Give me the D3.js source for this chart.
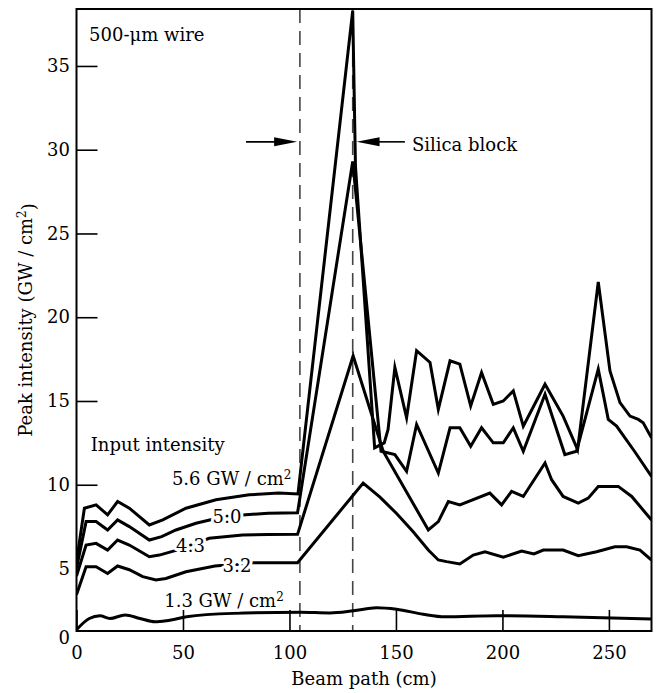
<!DOCTYPE html>
<html>
<head>
<meta charset="utf-8">
<script src="https://cdn.jsdelivr.net/npm/d3@7"></script>
<style>
  html, body { margin: 0; padding: 0; background: #fff; }
  svg { display: block; }
  text { font-family: "DejaVu Serif", serif; fill: #000; }
</style>
</head>
<body>
<svg id="chart" width="658" height="693"></svg>
<script>
// ---------- data ----------
const xTicks = [0, 50, 100, 150, 200, 250];
const yTicks = [0, 5, 10, 15, 20, 25, 30, 35];
const blockEdges = [104.9, 129.7];

const s56 = [[0,5.4],[3.7,8.6],[9.2,8.8],[14.6,8.2],[19.3,9.0],[24.8,8.6],[34.2,7.6],[40.5,7.9],[51.4,8.6],[65.5,9.1],[81.1,9.4],[95,9.5],[104,9.45],[129.7,38.3],[131,29.0],[140,12.2],[144.5,12.5],[146.3,13.3],[149.5,17.0],[155,14.0],[159.7,18.0],[166,17.3],[169.9,14.5],[175.4,17.4],[180,17.2],[185.1,14.7],[190.2,16.7],[195.7,14.8],[200.4,15.0],[205.1,15.6],[209.8,13.5],[220,16.0],[228.5,14.1],[235.3,12.1],[245,22.1],[250.5,16.8],[255.2,14.9],[259.9,14.1],[263.8,13.9],[266.1,13.7],[270,12.8]];
const s50 = [[0,5.0],[4.5,7.8],[9.2,7.8],[14.6,7.3],[19.3,7.9],[24.8,7.5],[34.2,6.7],[40,6.9],[46.7,7.3],[56.1,7.7],[66,8.0],[78,8.2],[90,8.3],[103.8,8.33],[129.7,29.3],[143,12.0],[149.5,11.8],[155,10.8],[159.7,13.6],[169.9,10.7],[175.4,13.4],[180,13.4],[185.1,12.3],[190.2,13.4],[195.7,12.5],[200.4,12.5],[205.1,13.4],[209.8,12.0],[220,15.4],[229.3,11.8],[234.8,12.0],[245,16.9],[249.7,13.9],[253.6,13.5],[262,12.0],[270,10.5]];
const s43 = [[0,4.4],[4.5,6.4],[9.2,6.5],[14.6,6.1],[19.3,6.7],[24.8,6.4],[34.2,5.7],[38.9,5.8],[50,6.2],[62.3,6.8],[78,7.0],[90,7.03],[103.8,7.04],[129.9,17.7],[144,12.0],[165.2,7.3],[169.9,7.8],[174.6,9.0],[180,8.8],[194.1,9.5],[199.6,8.8],[204.3,9.6],[209.8,9.3],[220,11.3],[223.1,10.3],[228.5,9.3],[235.6,8.9],[240.3,9.2],[245,9.9],[254.4,9.9],[260.7,9.3],[270,7.9]];
const s32 = [[0,2.9],[4.5,5.1],[9.2,5.1],[14.6,4.6],[19.3,5.15],[24.8,4.9],[31.1,4.35],[37.3,4.08],[42,4.2],[51.4,4.74],[65,5.15],[82.7,5.35],[103.8,5.35],[134.6,10.1],[142.5,9.26],[150.3,8.28],[158.1,7.19],[165.2,6.1],[169.9,5.51],[173.8,5.41],[180,5.27],[186.3,5.8],[191.8,6.0],[200.4,5.67],[209,6.04],[214.8,5.87],[219.2,6.1],[228.5,6.1],[235.6,5.76],[244.2,6.0],[252.8,6.3],[258.3,6.3],[264.6,6.1],[270,5.5]];
const s13 = [[0,0.1],[6,1.0],[11,1.22],[15.7,1.0],[22.8,1.28],[29.8,1.0],[36.9,0.74],[42.3,0.82],[51.7,1.14],[73.6,1.41],[105,1.5],[119,1.45],[130,1.62],[140.9,1.86],[150.3,1.74],[162.8,1.34],[173,1.14],[197.3,1.22],[228.5,1.14],[270,0.96]];

const seriesList = [
  {name: "5.6", values: s56, smooth: false},
  {name: "5.0", values: s50, smooth: false},
  {name: "4.3", values: s43, smooth: false},
  {name: "3.2", values: s32, smooth: false},
  {name: "1.3", values: s13, smooth: true}
];

// annotation anchors in data units [x, y]
const labels = [
  {text: "500-\u03BCm wire", at: [5.9, 36.49]},
  {text: "Silica block", at: [157.5, 29.94]},
  {text: "Input intensity", at: [6.67, 12.04]},
  {text: "5.6 GW / cm", sup: "2", at: [44.8, 9.98], halo: true},
  {text: "5:0", at: [63.9, 7.71], halo: true},
  {text: "4:3", at: [46.7, 6.0], halo: true},
  {text: "3:2", at: [68.6, 4.74], halo: true},
  {text: "1.3 GW / cm", sup: "2", at: [41.2, 1.94], halo: true}
];
const arrowY = 30.47;
const arrows = [{from: 79.6, to: 103.6}, {from: 154.2, to: 131.5}];

// ---------- layout ----------
const L = 76.5, R = 651.5, T = 9, B = 631;
const svg = d3.select("#chart");
const x = d3.scaleLinear().domain([0, 270]).range([L, R]);
const y = d3.scaleLinear().domain([0, 5, 38.4]).range([B, 568.5, T]);

svg.append("defs").append("clipPath").attr("id", "plotclip")
  .append("rect").attr("x", L).attr("y", T).attr("width", R - L).attr("height", B - T);

// dashed block edges
svg.append("g").selectAll("line").data(blockEdges).join("line")
  .attr("x1", d => x(d)).attr("x2", d => x(d))
  .attr("y1", T).attr("y2", B)
  .attr("stroke", "#444").attr("stroke-width", 1.6)
  .attr("stroke-dasharray", "14,8");

// axes
const gx = svg.append("g").attr("transform", `translate(0,${B})`)
  .call(d3.axisBottom(x).tickValues(xTicks).tickSizeInner(-21).tickSizeOuter(0).tickPadding(15.5));
const gy = svg.append("g").attr("transform", `translate(${L},0)`)
  .call(d3.axisLeft(y).tickValues(yTicks).tickSizeInner(-21).tickSizeOuter(0).tickPadding(6.5));
[gx, gy].forEach(g => {
  g.select(".domain").remove();
  g.attr("font-family", null).attr("font-size", null);
  g.selectAll("line").attr("stroke", "#000").attr("stroke-width", 1.6);
  g.selectAll("text").style("font-size", "18px").attr("fill", "#000");
});
gy.selectAll(".tick").filter(d => d < 10).select("line").remove();
gy.selectAll(".tick").filter(d => d === 0).select("text").attr("dy", "0.72em");

// curves
const line = d3.line().x(d => x(d[0])).y(d => y(d[1]));
const smoothLine = d3.line().x(d => x(d[0])).y(d => y(d[1])).curve(d3.curveMonotoneX);
svg.append("g").attr("clip-path", "url(#plotclip)")
  .selectAll("path").data(seriesList).join("path")
  .attr("d", d => (d.smooth ? smoothLine : line)(d.values))
  .attr("fill", "none").attr("stroke", "#000").attr("stroke-width", 3)
  .attr("stroke-linejoin", "miter").attr("stroke-miterlimit", 6);

// frame
svg.append("rect").attr("x", L).attr("y", T).attr("width", R - L).attr("height", B - T)
  .attr("fill", "none").attr("stroke", "#000").attr("stroke-width", 2);

// labels
labels.forEach(l => {
  const t = svg.append("text").attr("x", x(l.at[0])).attr("y", y(l.at[1]))
    .style("font-size", "18px");
  if (l.halo) {
    t.attr("stroke", "#fff").attr("stroke-width", 6).attr("paint-order", "stroke")
     .attr("stroke-linejoin", "round");
  }
  t.append("tspan").text(l.text);
  if (l.sup) t.append("tspan").attr("dy", "-0.5em").style("font-size", "12px").text(l.sup);
});

// arrows
arrows.forEach(a => {
  const dir = Math.sign(a.to - a.from);
  const tipX = x(a.to), py = y(arrowY);
  svg.append("line").attr("x1", x(a.from)).attr("x2", tipX - dir * 18).attr("y1", py).attr("y2", py)
    .attr("stroke", "#000").attr("stroke-width", 1.6);
  svg.append("path")
    .attr("d", `M${tipX},${py} L${tipX - dir * 23},${py - 4.5} L${tipX - dir * 23},${py + 4.5} Z`)
    .attr("fill", "#000");
});

// axis titles
svg.append("text").attr("x", (L + R) / 2).attr("y", 685).attr("text-anchor", "middle")
  .style("font-size", "18px").text("Beam path (cm)");
const yt = svg.append("text").attr("transform", `translate(31.5,${(T + B) / 2}) rotate(-90)`)
  .attr("text-anchor", "middle").style("font-size", "18px");
yt.append("tspan").text("Peak intensity (GW / cm");
yt.append("tspan").attr("dy", "-0.5em").style("font-size", "12px").text("2");
yt.append("tspan").attr("dy", "0.5em").text(")");
</script>
</body>
</html>
